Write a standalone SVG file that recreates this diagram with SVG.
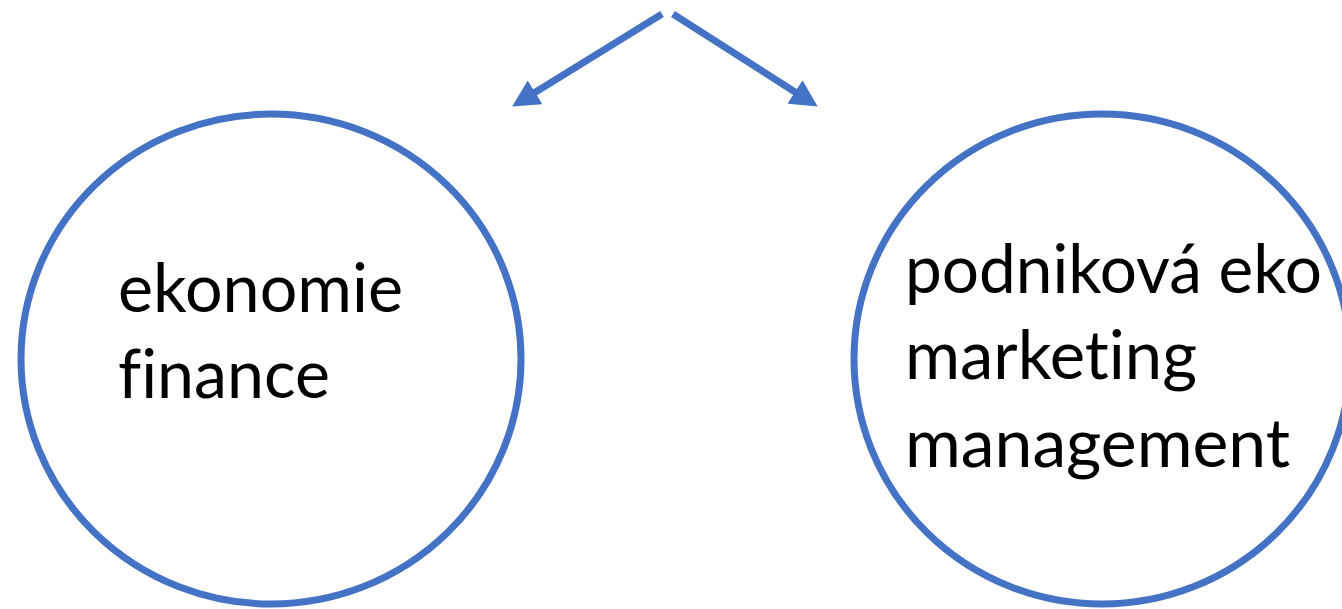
<svg xmlns="http://www.w3.org/2000/svg" width="1342" height="609" viewBox="0 0 1342 609">
<style>
.node{fill:#fff;stroke:#4472C4;stroke-width:7}
.lbl{font-family:"Lato","Liberation Sans",sans-serif;font-size:68px;fill:#000;font-variant-ligatures:none;font-feature-settings:"liga" 0,"clig" 0}
.edge{stroke:#4472C4;stroke-width:7;fill:none}
</style>
<defs>
<marker id="ah" markerUnits="userSpaceOnUse" markerWidth="28" markerHeight="28" viewBox="0 0 28 28" refX="6" refY="14" orient="auto">
<path d="M0,0 L27,14 L0,28 z" fill="#4472C4"/>
</marker>
</defs>
<rect width="1342" height="609" fill="#fff"/>
<g id="node-left">
<ellipse class="node" cx="271" cy="359" rx="250" ry="245"/>
<text class="lbl" x="118" y="312" textLength="285" lengthAdjust="spacingAndGlyphs">ekonomie</text>
<text class="lbl" x="118" y="398" textLength="212" lengthAdjust="spacingAndGlyphs">finance</text>
</g>
<g id="node-right">
<ellipse class="node" cx="1102" cy="359" rx="248" ry="245"/>
<text class="lbl" x="905" y="293" textLength="417" lengthAdjust="spacingAndGlyphs">podniková eko</text>
<text class="lbl" x="905" y="379" textLength="292" lengthAdjust="spacingAndGlyphs">marketing</text>
<text class="lbl" x="905" y="467" textLength="385" lengthAdjust="spacingAndGlyphs">management</text>
</g>
<g id="connectors">
<line class="edge" x1="662" y1="14" x2="530" y2="95.5" marker-end="url(#ah)"/>
<line class="edge" x1="673" y1="14" x2="800" y2="95.2" marker-end="url(#ah)"/>
</g>
</svg>
